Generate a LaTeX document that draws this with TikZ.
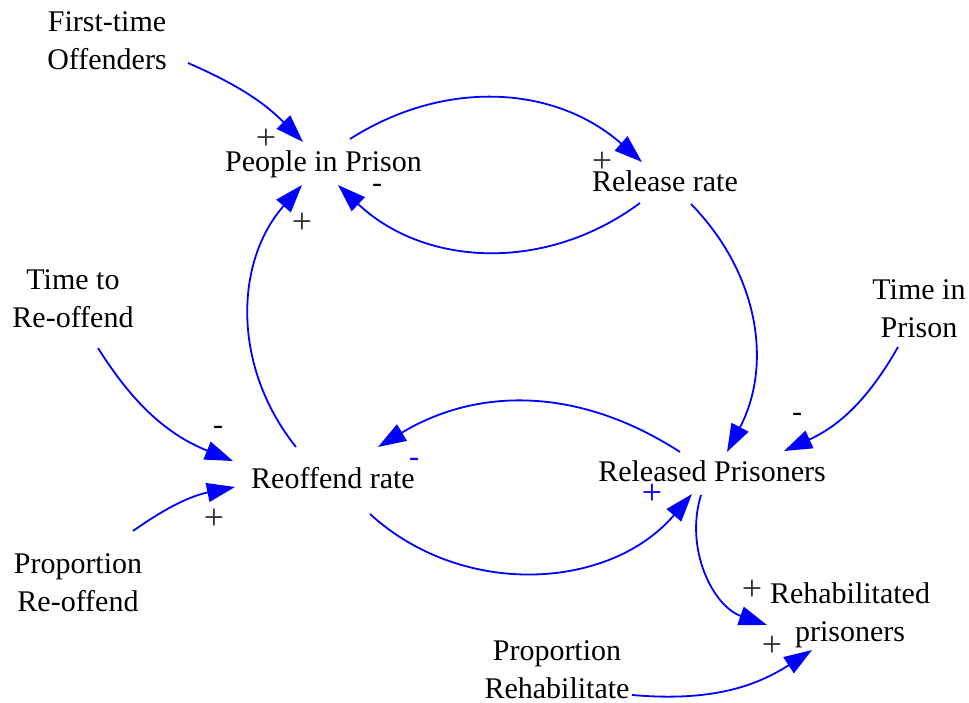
\documentclass[tikz,border=0pt]{standalone}
\usepackage{fontspec}
\setmainfont{Liberation Serif}
\usetikzlibrary{arrows.meta}
\definecolor{arrblue}{RGB}{0,0,255}
\definecolor{polgray}{RGB}{50,50,50}
\newcommand{\twolines}[2]{\begin{tabular}[t]{@{}c@{}}#1\\#2\end{tabular}}
\begin{document}
\begin{tikzpicture}[x=1pt,y=1pt,
  var/.style={anchor=base,inner sep=0pt,outer sep=0pt,font=\fontsize{30}{38}\selectfont},
  link/.style={draw=arrblue,line width=1.8pt,-{Triangle[length=28pt,width=19pt]}},
  pol/.style={anchor=center,inner sep=0pt,outer sep=0pt,font=\fontsize{36}{40}\selectfont,text=polgray},
  polneg/.style={anchor=base,inner sep=0pt,outer sep=0pt,font=\fontsize{30}{38}\selectfont,text=black},
  polblue/.style={text=arrblue}
]
\useasboundingbox (0,0) rectangle (969,702);

% variables
\node[var] (FTO) at (107,670) {\twolines{First-time}{Offenders}};
\node[var] (PIP) at (323.5,530) {People in Prison};
\node[var] (RR)  at (665,510) {Release rate};
\node[var] (TTR) at (73,412) {\twolines{Time to}{Re-offend}};
\node[var] (TIP) at (919,402) {\twolines{Time in}{Prison}};
\node[var] (ROR) at (333,213) {Reoffend rate};
\node[var] (RP)  at (712,220) {Released Prisoners};
\node[var] (PRO) at (78,129) {\twolines{Proportion}{Re-offend}};
\node[var] (RHP) at (850,99) {\twolines{Rehabilitated}{prisoners}};
\node[var] (PRH) at (557,42) {\twolines{Proportion}{Rehabilitate}};

% links
\draw[link] ([shift={(81,-31)}]FTO.base) to[bend left=11] ([shift={(-20.5,30)}]PIP.base);
\draw[link] ([shift={(26.5,33)}]PIP.base) to[bend left=37] ([shift={(-23,30)}]RR.base);
\draw[link] ([shift={(-25,-11)}]RR.base) to[bend left=40] ([shift={(14.5,-13)}]PIP.base);
\draw[link] ([shift={(-37,42)}]ROR.base) to[bend left=40] ([shift={(-21.5,-13)}]PIP.base);
\draw[link] ([shift={(25,-58)}]TTR.base) to[bend right=18] ([shift={(-100,28)}]ROR.base);
\draw[link] ([shift={(55,42)}]PRO.base) to[bend left=12] ([shift={(-98,2)}]ROR.base);
\draw[link] ([shift={(-32,30)}]RP.base) to[bend right=32] ([shift={(45,42)}]ROR.base);
\draw[link] ([shift={(37,-25)}]ROR.base) to[bend right=46] ([shift={(-20,-12)}]RP.base);
\draw[link] ([shift={(26,-12)}]RR.base) to[bend left=36] ([shift={(15,30)}]RP.base);
\draw[link] ([shift={(-21,-47)}]TIP.base) to[bend left=18] ([shift={(72,31)}]RP.base);
\draw[link] ([shift={(-11,-13)}]RP.base) to[bend right=44] ([shift={(-83,-22)}]RHP.base);
\draw[link] ([shift={(75,-35)}]PRH.base) to[bend right=19] ([shift={(-38,-47)}]RHP.base);

% polarities
\node[pol] (p1) at (266,563) {+};
\node[polneg] (p2) at (377,509) {-};
\node[pol] (p3) at (302,479) {+};
\node[pol] (p4) at (602,540) {+};
\node[polneg] (p5) at (218,267) {-};
\node[pol] (p6) at (214,183) {+};
\node[polneg,polblue] (p7) at (414,235) {-};
\node[polneg] (p8) at (797,280) {-};
\node[pol,polblue] (p9) at (652,208) {+};
\node[pol] (p10) at (752,112) {+};
\node[pol] (p11) at (772,56) {+};
\end{tikzpicture}
\end{document}
